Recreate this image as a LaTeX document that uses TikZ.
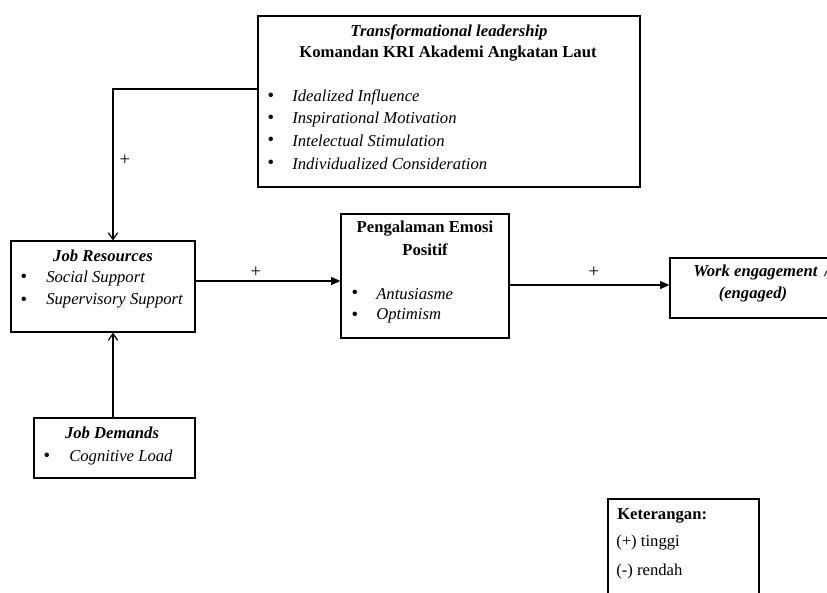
\documentclass[tikz,border=0pt]{standalone}
\usepackage{fontspec}
\setmainfont{Liberation Serif}
\usetikzlibrary{arrows.meta,fit}
\newcommand{\fsz}{\fontsize{12.5}{15}\selectfont}

\begin{document}
\begin{tikzpicture}[x=0.75pt,y=-0.75pt,
  box/.style={draw,line width=0.9pt,inner sep=0},
  txt/.style={inner sep=0,anchor=west,font=\fsz},
  ctr/.style={inner sep=0,font=\fsz},
  bul/.style={inner sep=0,font=\fontsize{14}{14}\selectfont},
  link/.style={line width=0.9pt,-{Straight Barb[length=5pt,width=7pt]}},
  flow/.style={line width=0.9pt,-{Triangle[length=7pt,width=6pt]}}]
\useasboundingbox (0,0) rectangle (827,592);
\clip (0,0) rectangle (827,592);

% boxes
\node[box,fit={(258,16)(640,187)}] (tl) {};
\node[box,fit={(11,241)(195,332)}] (jr) {};
\node[box,fit={(341,214)(509,338)}] (pe) {};
\node[box,fit={(670,258)(860,318)}] (we) {};
\node[box,fit={(34,418)(195,478)}] (jd) {};
\node[box,fit={(608,499)(759,620)}] (ket) {};

% transformational leadership
\node[ctr,font=\fsz\itshape\bfseries] (tlhead) at (449,32) {Transformational leadership};
\node[ctr,font=\fsz\bfseries] (tlsub) at (448,54) {Komandan KRI Akademi Angkatan Laut};
\foreach \y/\t [count=\i] in {97/Idealized Influence, 119/Inspirational Motivation,
    141/Intelectual Stimulation, 164/Individualized Consideration} {
  \node[bul] (tlb\i) at (271,\y) {\textbullet};
  \node[txt,font=\fsz\itshape] (tlt\i) at (292,\y) {\t};
}

% job resources
\node[ctr,font=\fsz\itshape\bfseries] (jrhead) at (103,256) {Job Resources};
\foreach \y/\t [count=\i] in {278/Social Support, 301/Supervisory Support} {
  \node[bul] (jrb\i) at (24,\y) {\textbullet};
  \node[txt,font=\fsz\itshape] (jrt\i) at (46,\y) {\t};
}

% pengalaman emosi positif
\node[ctr,font=\fsz\bfseries] (pehead) at (425,229) {Pengalaman Emosi};
\node[ctr,font=\fsz\bfseries] (pesub) at (425,250) {Positif};
\foreach \y/\t [count=\i] in {294/Antusiasme, 316/Optimism} {
  \node[bul] (peb\i) at (355,\y) {\textbullet};
  \node[txt,font=\fsz\itshape] (pet\i) at (376,\y) {\t};
}

% work engagement
\node[txt,font=\fsz\itshape\bfseries] (wehead) at (693,272) {Work engagement\hspace{0.45em}/};
\node[ctr,font=\fsz\itshape\bfseries] (wesub) at (753,294) {(engaged)};

% job demands
\node[ctr,font=\fsz\itshape\bfseries] (jdhead) at (112,433) {Job Demands};
\node[bul] (jdb) at (47,457) {\textbullet};
\node[txt,font=\fsz\itshape] (jdt) at (69,457) {Cognitive Load};

% keterangan
\node[txt,font=\fsz\bfseries] (kethead) at (617,516) {Keterangan:};
\node[txt] (ketp) at (616,543) {(+) tinggi};
\node[txt] (ketm) at (616,571) {(-) rendah};

% connectors
\coordinate (bend) at (113,89);
\coordinate (m1) at (0,281);
\coordinate (m2) at (0,285);
\draw[link] (bend -| tl.west) -- (bend) -- (bend |- jr.north);
\draw[link] (jd.north -| bend) -- (bend |- jr.south);
\draw[flow] (jr.east |- m1) -- (pe.west |- m1);
\draw[flow] (pe.east |- m2) -- (we.west |- m2);

\node[ctr,font=\fontsize{14}{14}\selectfont] (p1) at (125,160) {+};
\node[ctr,font=\fontsize{14}{14}\selectfont] (p2) at (256,272) {+};
\node[ctr,font=\fontsize{14}{14}\selectfont] (p3) at (594,272) {+};
\end{tikzpicture}
\end{document}
